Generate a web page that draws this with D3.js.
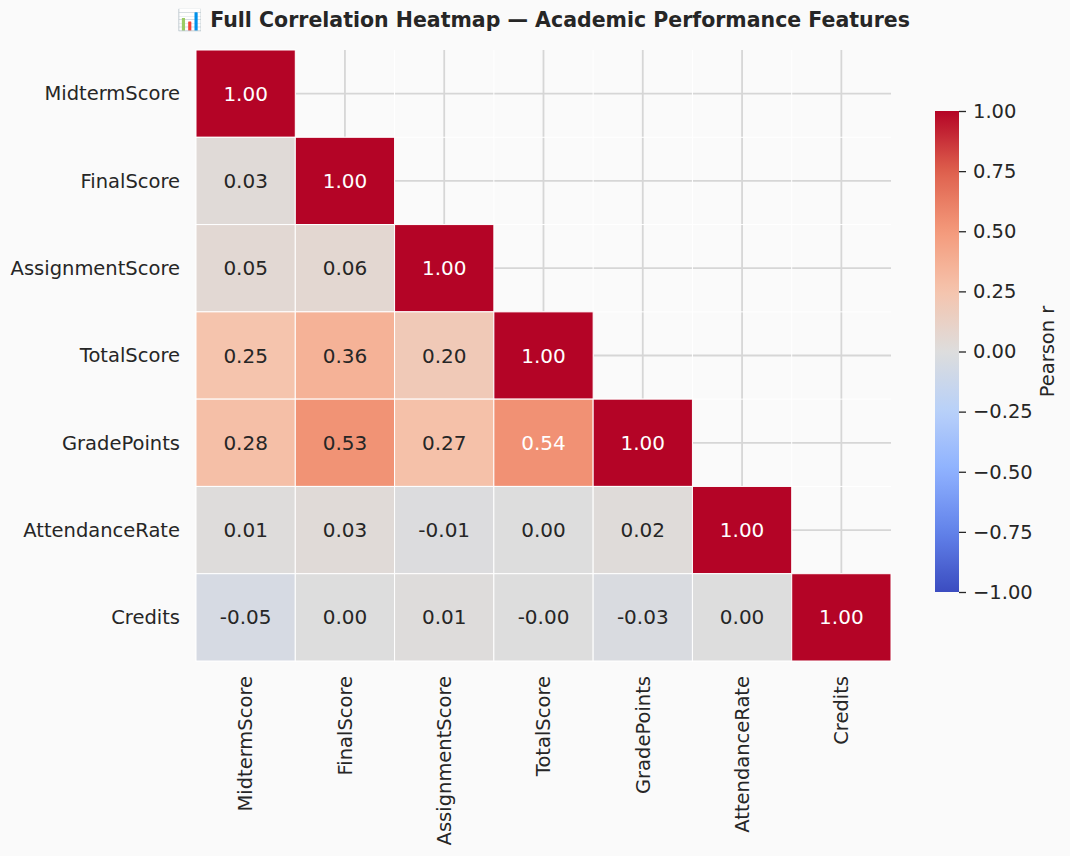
<!DOCTYPE html>
<html>
<head>
<meta charset="utf-8">
<script src="https://cdn.jsdelivr.net/npm/d3@7"></script>
<style>
  body { margin: 0; background: #fafafa; }
  svg { display: block; font-family: "DejaVu Sans", sans-serif; }
</style>
</head>
<body>
<div class="heatmap"></div>
<script>
// features, same order on both axes
const features = ["MidtermScore", "FinalScore", "AssignmentScore", "TotalScore",
  "GradePoints", "AttendanceRate", "Credits"];

// lower triangle of the correlation matrix, one row per feature
const corrRows = [
  [1.00],
  [0.03, 1.00],
  [0.05, 0.06, 1.00],
  [0.25, 0.36, 0.20, 1.00],
  [0.28, 0.532, 0.27, 0.538, 1.00],
  [0.01, 0.03, -0.01, 0.00, 0.02, 1.00],
  [-0.05, 0.00, 0.01, -0.002, -0.03, 0.00, 1.00]
];

const colorbarTicks = [-1, -0.75, -0.5, -0.25, 0, 0.25, 0.5, 0.75, 1];

// matplotlib coolwarm, sampled
const coolwarmStops = ["#3b4cc0", "#6282ea", "#8db0fe", "#b8d0f9", "#dddddd",
  "#f5c4ad", "#f49a7b", "#de604d", "#b40426"];

function drawHeatmap() {
  const width = 1070;
  const height = 856;
  const plot = { left: 196, right: 891, top: 50, bottom: 661 };
  const cbar = { left: 935, right: 959, top: 111, bottom: 592 };
  const fontSize = "19.5px";

  const cells = [];
  corrRows.forEach((row, i) => {
    row.forEach((v, j) => cells.push({ row: features[i], col: features[j], value: v }));
  });

  const xScale = d3.scaleBand().domain(features).range([plot.left, plot.right]);
  const yScale = d3.scaleBand().domain(features).range([plot.top, plot.bottom]);

  const color = d3.scaleLinear()
    .domain(d3.range(coolwarmStops.length).map(i => -1 + 2 * i / (coolwarmStops.length - 1)))
    .range(coolwarmStops)
    .clamp(true);

  // seaborn-style annotation colour from relative luminance
  const lum = c => {
    const rgb = d3.rgb(c);
    const lin = [rgb.r, rgb.g, rgb.b].map(x => {
      x /= 255;
      return x <= 0.03928 ? x / 12.92 : Math.pow((x + 0.055) / 1.055, 2.4);
    });
    return 0.2126 * lin[0] + 0.7152 * lin[1] + 0.0722 * lin[2];
  };

  d3.select(".heatmap").selectAll("*").remove();

  const svg = d3.select(".heatmap")
    .append("svg")
    .attr("width", width)
    .attr("height", height);

  svg.append("rect")
    .attr("width", width)
    .attr("height", height)
    .attr("fill", "#fafafa");

  // background grid at tick positions
  const grid = svg.append("g");
  grid.selectAll("line.h")
    .data(features)
    .enter()
    .append("line")
    .attr("x1", plot.left)
    .attr("x2", plot.right)
    .attr("y1", d => yScale(d) + yScale.bandwidth() / 2)
    .attr("y2", d => yScale(d) + yScale.bandwidth() / 2)
    .attr("stroke", "#d6d6d6")
    .attr("stroke-width", 1.8);
  grid.selectAll("line.v")
    .data(features)
    .enter()
    .append("line")
    .attr("y1", plot.top)
    .attr("y2", plot.bottom)
    .attr("x1", d => xScale(d) + xScale.bandwidth() / 2)
    .attr("x2", d => xScale(d) + xScale.bandwidth() / 2)
    .attr("stroke", "#d6d6d6")
    .attr("stroke-width", 1.8);

  // white cell edges are drawn over the masked part too
  const edges = svg.append("g");
  edges.selectAll("line.eh")
    .data(features.slice(1))
    .enter()
    .append("line")
    .attr("x1", plot.left)
    .attr("x2", plot.right)
    .attr("y1", d => yScale(d))
    .attr("y2", d => yScale(d))
    .attr("stroke", "#ffffff")
    .attr("stroke-width", 1);
  edges.selectAll("line.ev")
    .data(features.slice(1))
    .enter()
    .append("line")
    .attr("y1", plot.top)
    .attr("y2", plot.bottom)
    .attr("x1", d => xScale(d))
    .attr("x2", d => xScale(d))
    .attr("stroke", "#ffffff")
    .attr("stroke-width", 1);

  const cellG = svg.append("g")
    .selectAll("g")
    .data(cells)
    .enter()
    .append("g");

  cellG.append("rect")
    .attr("x", d => xScale(d.col))
    .attr("y", d => yScale(d.row))
    .attr("width", xScale.bandwidth())
    .attr("height", yScale.bandwidth())
    .attr("fill", d => color(d.value))
    .attr("stroke", "#ffffff")
    .attr("stroke-width", 1);

  cellG.append("text")
    .attr("x", d => xScale(d.col) + xScale.bandwidth() / 2)
    .attr("y", d => yScale(d.row) + yScale.bandwidth() / 2)
    .attr("dy", "0.35em")
    .style("text-anchor", "middle")
    .style("font-size", "20px")
    .attr("fill", d => lum(color(d.value)) > 0.408 ? "#262626" : "#ffffff")
    .text(d => d.value.toFixed(2));

  // axis labels
  svg.append("g")
    .selectAll("text")
    .data(features)
    .enter()
    .append("text")
    .attr("x", plot.left - 16)
    .attr("y", d => yScale(d) + yScale.bandwidth() / 2)
    .attr("dy", "0.35em")
    .style("text-anchor", "end")
    .style("font-size", fontSize)
    .attr("fill", "#262626")
    .text(d => d);

  svg.append("g")
    .selectAll("text")
    .data(features)
    .enter()
    .append("text")
    .attr("transform", d => `translate(${xScale(d) + xScale.bandwidth() / 2},${plot.bottom + 15}) rotate(-90)`)
    .attr("dy", "0.35em")
    .style("text-anchor", "end")
    .style("font-size", fontSize)
    .attr("fill", "#262626")
    .text(d => d);

  // colorbar
  const cScale = d3.scaleLinear().domain([-1, 1]).range([cbar.bottom, cbar.top]);
  const grad = svg.append("defs")
    .append("linearGradient")
    .attr("id", "cw")
    .attr("x1", 0).attr("y1", 1).attr("x2", 0).attr("y2", 0);
  grad.selectAll("stop")
    .data(d3.range(0, 1.0001, 0.02))
    .enter()
    .append("stop")
    .attr("offset", d => d)
    .attr("stop-color", d => color(-1 + 2 * d));

  svg.append("rect")
    .attr("x", cbar.left)
    .attr("y", cbar.top)
    .attr("width", cbar.right - cbar.left)
    .attr("height", cbar.bottom - cbar.top)
    .attr("fill", "url(#cw)");

  const cAxis = svg.append("g")
    .attr("transform", `translate(${cbar.right},0)`)
    .call(d3.axisRight(cScale).tickValues(colorbarTicks).tickFormat(d3.format(".2f"))
      .tickSize(7).tickPadding(7));
  cAxis.select(".domain").remove();
  cAxis.selectAll("line").attr("stroke", "#262626").attr("stroke-width", 1.3);
  cAxis.selectAll("text")
    .attr("fill", "#262626")
    .style("font-size", fontSize)
    .style("font-family", "DejaVu Sans, sans-serif");

  svg.append("text")
    .attr("transform", `translate(1047,${(cbar.top + cbar.bottom) / 2}) rotate(-90)`)
    .attr("dy", "0.35em")
    .style("text-anchor", "middle")
    .style("font-size", fontSize)
    .attr("fill", "#262626")
    .text("Pearson r");

  // title
  svg.append("text")
    .attr("x", (plot.left + plot.right) / 2)
    .attr("y", 27)
    .style("text-anchor", "middle")
    .style("font-size", "20.5px")
    .style("font-weight", "bold")
    .attr("fill", "#262626")
    .text("\u{1F4CA} Full Correlation Heatmap \u2014 Academic Performance Features");
}

drawHeatmap();
</script>
</body>
</html>
